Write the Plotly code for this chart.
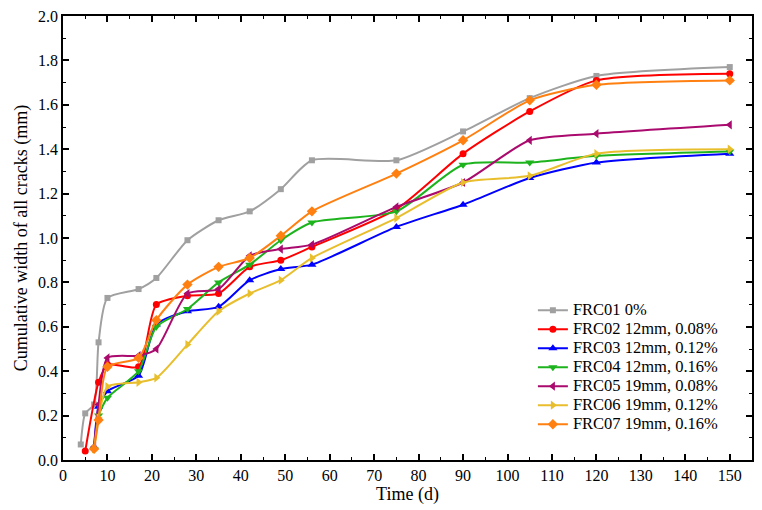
import plotly.graph_objects as go

days = [4, 5, 7, 8, 10, 17, 21, 28, 35, 42, 49, 56, 75, 90, 105, 120, 150]
days_b = [7, 8, 10, 17, 21, 28, 35, 42, 49, 56, 75, 90, 105, 120, 150]
days_r = [5, 8, 10, 17, 21, 28, 35, 42, 49, 56, 75, 90, 105, 120, 150]

frc01 = [0.07, 0.21, 0.25, 0.53, 0.73, 0.77, 0.82, 0.99, 1.08, 1.12, 1.22, 1.35, 1.35, 1.48, 1.63, 1.73, 1.77]
frc02 = [0.04, 0.35, 0.43, 0.42, 0.70, 0.74, 0.75, 0.87, 0.90, 0.96, 1.13, 1.38, 1.57, 1.71, 1.74]
frc03 = [0.06, 0.24, 0.31, 0.38, 0.61, 0.67, 0.69, 0.81, 0.86, 0.88, 1.05, 1.15, 1.27, 1.34, 1.38]
frc04 = [0.05, 0.20, 0.28, 0.40, 0.60, 0.68, 0.80, 0.88, 0.99, 1.07, 1.12, 1.33, 1.34, 1.37, 1.39]
frc05 = [0.06, 0.25, 0.46, 0.47, 0.50, 0.75, 0.77, 0.92, 0.95, 0.97, 1.14, 1.25, 1.44, 1.47, 1.51]
frc06 = [0.05, 0.19, 0.33, 0.35, 0.37, 0.52, 0.67, 0.75, 0.81, 0.91, 1.09, 1.25, 1.28, 1.38, 1.40]
frc07 = [0.05, 0.18, 0.42, 0.46, 0.63, 0.79, 0.87, 0.91, 1.01, 1.12, 1.29, 1.44, 1.62, 1.69, 1.71]

names = ["FRC01 0%", "FRC02 12mm, 0.08%", "FRC03 12mm, 0.12%", "FRC04 12mm, 0.16%",
         "FRC05 19mm, 0.08%", "FRC06 19mm, 0.12%", "FRC07 19mm, 0.16%"]

series = [
    (days, frc01, "#A0A0A0", "square", 6),
    (days_r, frc02, "#FF0000", "circle", 7),
    (days_b, frc03, "#0000FF", "triangle-up", 8),
    (days_b, frc04, "#1DB31D", "triangle-down", 8),
    (days_b, frc05, "#AA0A6E", "triangle-left", 8),
    (days_b, frc06, "#E8BE2C", "triangle-right", 8),
    (days_b, frc07, "#FF8010", "diamond", 8),
]

fig = go.Figure()
for name, (x, y, c, sym, sz) in zip(names, series):
    fig.add_trace(go.Scatter(
        x=x, y=y, name='<span style="font-size:16.5px">' + name + '</span>',
        mode="lines+markers",
        line=dict(color=c, width=2, shape="spline", smoothing=0.65),
        marker=dict(color=c, symbol=sym, size=sz),
    ))

font = "Liberation Serif"
axis_common = dict(
    showline=True, linecolor="black", linewidth=1.5, mirror="ticks",
    ticks="inside", ticklen=6, tickwidth=1.5, tickcolor="black",
    showgrid=False, zeroline=False, automargin=False,
    tickfont=dict(family=font, size=16, color="black"),
)
fig.update_xaxes(range=[0, 155], dtick=10, tick0=0,
                 minor=dict(dtick=5, ticks="inside", ticklen=3, tickcolor="black", tickwidth=1.2),
                 title=dict(text="Time (d)", font=dict(family=font, size=18, color="black"), standoff=4),
                 **axis_common)
fig.update_yaxes(range=[0, 2.0], dtick=0.2, tick0=0, tickformat=".1f",
                 minor=dict(dtick=0.1, ticks="inside", ticklen=3, tickcolor="black", tickwidth=1.2),
                 title=dict(text="Cumulative width of all cracks (mm)", font=dict(family=font, size=18, color="black"), standoff=6),
                 **axis_common)

fig.update_layout(
    width=762, height=510,
    margin=dict(l=63, r=10, t=16, b=50),
    plot_bgcolor="white", paper_bgcolor="white",
    font=dict(family=font, color="black"),
    legend=dict(x=0.682, y=0.37, xanchor="left", yanchor="top",
                bgcolor="rgba(0,0,0,0)", font=dict(family=font, size=12, color="black"),
                tracegroupgap=0, itemwidth=30),
)

fig.write_html("out.html", config={"displayModeBar": False},
               post_script="document.body.style.margin='0';")
